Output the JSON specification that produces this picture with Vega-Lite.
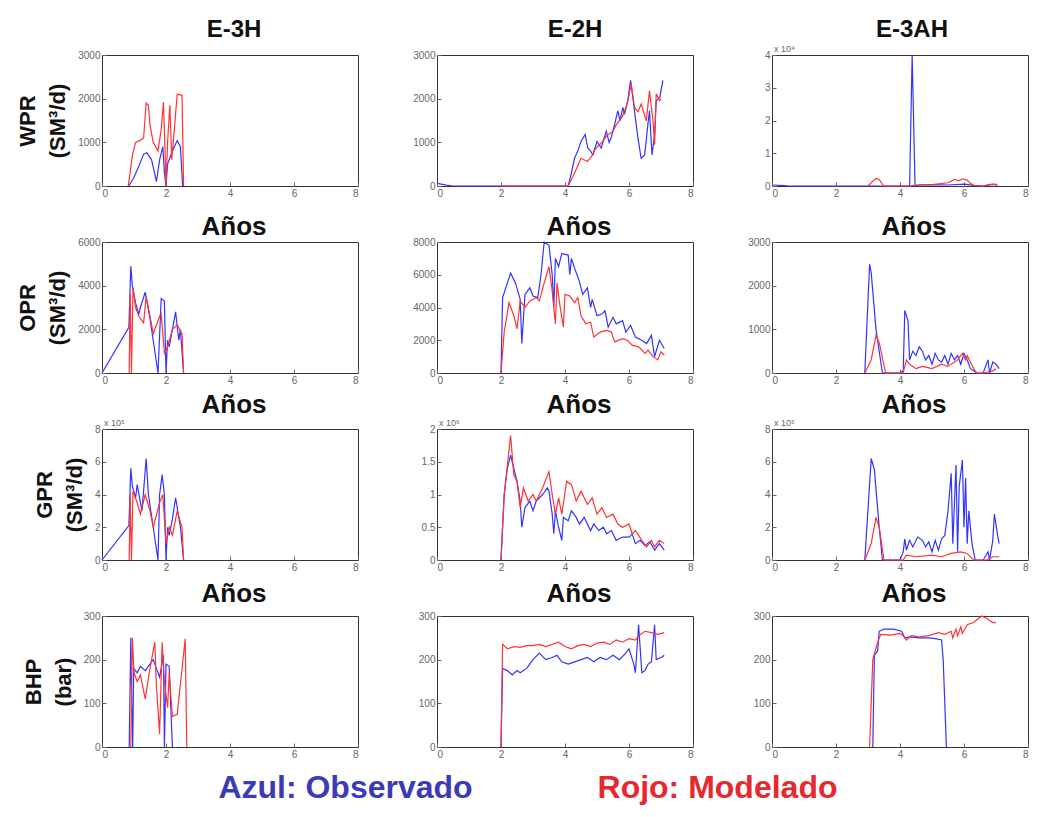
{
"$schema":"https://vega.github.io/schema/vega-lite/v6.json",
"background":"white",
"padding":{"left":16,"top":17,"right":5,"bottom":5},
"datasets":{
"wpr_e3h":[
{"s":"Obs","t":0.84,"v":0},{"s":"Obs","t":1.0,"v":200},{"s":"Obs","t":1.15,"v":450},{"s":"Obs","t":1.3,"v":730},{"s":"Obs","t":1.4,"v":760},{"s":"Obs","t":1.55,"v":600},{"s":"Obs","t":1.7,"v":100},{"s":"Obs","t":1.8,"v":600},{"s":"Obs","t":1.9,"v":900},{"s":"Obs","t":1.95,"v":300},{"s":"Obs","t":2.0,"v":0},{"s":"Obs","t":2.05,"v":500},{"s":"Obs","t":2.2,"v":800},{"s":"Obs","t":2.35,"v":1040},{"s":"Obs","t":2.45,"v":900},{"s":"Obs","t":2.52,"v":0},
{"s":"Mod","t":0.82,"v":0},{"s":"Mod","t":0.95,"v":700},{"s":"Mod","t":1.05,"v":1000},{"s":"Mod","t":1.2,"v":1050},{"s":"Mod","t":1.3,"v":1100},{"s":"Mod","t":1.38,"v":1900},{"s":"Mod","t":1.45,"v":1850},{"s":"Mod","t":1.5,"v":1400},{"s":"Mod","t":1.6,"v":1000},{"s":"Mod","t":1.75,"v":800},{"s":"Mod","t":1.85,"v":1300},{"s":"Mod","t":1.92,"v":1920},{"s":"Mod","t":1.97,"v":800},{"s":"Mod","t":2.0,"v":0},{"s":"Mod","t":2.05,"v":1000},{"s":"Mod","t":2.12,"v":1850},{"s":"Mod","t":2.18,"v":600},{"s":"Mod","t":2.25,"v":1200},{"s":"Mod","t":2.35,"v":2100},{"s":"Mod","t":2.5,"v":2080},{"s":"Mod","t":2.55,"v":0}],
"wpr_e2h":[
{"s":"Obs","t":0,"v":60},{"s":"Obs","t":0.3,"v":20},{"s":"Obs","t":0.5,"v":0},{"s":"Obs","t":4.1,"v":0},{"s":"Obs","t":4.2,"v":300},{"s":"Obs","t":4.3,"v":640},{"s":"Obs","t":4.4,"v":800},{"s":"Obs","t":4.5,"v":1020},{"s":"Obs","t":4.63,"v":1180},{"s":"Obs","t":4.71,"v":870},{"s":"Obs","t":4.8,"v":800},{"s":"Obs","t":4.87,"v":710},{"s":"Obs","t":5.0,"v":1020},{"s":"Obs","t":5.13,"v":870},{"s":"Obs","t":5.29,"v":1255},{"s":"Obs","t":5.38,"v":1000},{"s":"Obs","t":5.44,"v":1100},{"s":"Obs","t":5.55,"v":1410},{"s":"Obs","t":5.65,"v":1720},{"s":"Obs","t":5.72,"v":1500},{"s":"Obs","t":5.81,"v":1800},{"s":"Obs","t":5.86,"v":1640},{"s":"Obs","t":5.96,"v":1950},{"s":"Obs","t":6.05,"v":2420},{"s":"Obs","t":6.12,"v":2030},{"s":"Obs","t":6.17,"v":1720},{"s":"Obs","t":6.28,"v":1100},{"s":"Obs","t":6.38,"v":635},{"s":"Obs","t":6.49,"v":710},{"s":"Obs","t":6.59,"v":1410},{"s":"Obs","t":6.64,"v":1720},{"s":"Obs","t":6.72,"v":710},{"s":"Obs","t":6.8,"v":1180},{"s":"Obs","t":6.85,"v":1950},{"s":"Obs","t":6.96,"v":2030},{"s":"Obs","t":7.06,"v":2420},
{"s":"Mod","t":2.0,"v":0},{"s":"Mod","t":4.1,"v":0},{"s":"Mod","t":4.3,"v":300},{"s":"Mod","t":4.5,"v":635},{"s":"Mod","t":4.7,"v":560},{"s":"Mod","t":4.85,"v":700},{"s":"Mod","t":4.97,"v":870},{"s":"Mod","t":5.15,"v":1000},{"s":"Mod","t":5.3,"v":1150},{"s":"Mod","t":5.5,"v":1250},{"s":"Mod","t":5.6,"v":1400},{"s":"Mod","t":5.8,"v":1600},{"s":"Mod","t":5.95,"v":1900},{"s":"Mod","t":6.07,"v":2340},{"s":"Mod","t":6.17,"v":1800},{"s":"Mod","t":6.28,"v":1700},{"s":"Mod","t":6.38,"v":1875},{"s":"Mod","t":6.54,"v":1490},{"s":"Mod","t":6.64,"v":2185},{"s":"Mod","t":6.75,"v":1490},{"s":"Mod","t":6.8,"v":945},{"s":"Mod","t":6.85,"v":2110},{"s":"Mod","t":6.96,"v":1950},{"s":"Mod","t":7.0,"v":2000}],
"wpr_e3ah":[
{"s":"Obs","t":0,"v":300},{"s":"Obs","t":0.4,"v":100},{"s":"Obs","t":0.5,"v":0},{"s":"Obs","t":4.3,"v":0},{"s":"Obs","t":4.38,"v":40000},{"s":"Obs","t":4.47,"v":0},{"s":"Obs","t":4.6,"v":300},{"s":"Obs","t":5.0,"v":400},{"s":"Obs","t":5.5,"v":300},{"s":"Obs","t":6.0,"v":600},{"s":"Obs","t":6.3,"v":200},{"s":"Obs","t":6.6,"v":0},{"s":"Obs","t":6.9,"v":500},{"s":"Obs","t":7.0,"v":300},
{"s":"Mod","t":3.0,"v":0},{"s":"Mod","t":3.15,"v":1500},{"s":"Mod","t":3.25,"v":2300},{"s":"Mod","t":3.35,"v":2000},{"s":"Mod","t":3.45,"v":500},{"s":"Mod","t":3.5,"v":0},{"s":"Mod","t":4.3,"v":0},{"s":"Mod","t":4.5,"v":300},{"s":"Mod","t":5.0,"v":400},{"s":"Mod","t":5.5,"v":1000},{"s":"Mod","t":5.7,"v":2000},{"s":"Mod","t":5.85,"v":1600},{"s":"Mod","t":5.95,"v":2200},{"s":"Mod","t":6.1,"v":1800},{"s":"Mod","t":6.2,"v":800},{"s":"Mod","t":6.3,"v":200},{"s":"Mod","t":6.6,"v":0},{"s":"Mod","t":6.8,"v":500},{"s":"Mod","t":7.0,"v":600},{"s":"Mod","t":7.05,"v":0}],
"opr_e3h":[
{"s":"Obs","t":0,"v":0},{"s":"Obs","t":0.84,"v":2090},{"s":"Obs","t":0.9,"v":4890},{"s":"Obs","t":0.95,"v":4000},{"s":"Obs","t":1.05,"v":3200},{"s":"Obs","t":1.15,"v":2700},{"s":"Obs","t":1.2,"v":3000},{"s":"Obs","t":1.35,"v":3700},{"s":"Obs","t":1.5,"v":2500},{"s":"Obs","t":1.6,"v":1500},{"s":"Obs","t":1.75,"v":0},{"s":"Obs","t":1.85,"v":3410},{"s":"Obs","t":1.95,"v":3300},{"s":"Obs","t":2.0,"v":0},{"s":"Obs","t":2.05,"v":1500},{"s":"Obs","t":2.1,"v":1200},{"s":"Obs","t":2.2,"v":2000},{"s":"Obs","t":2.3,"v":2800},{"s":"Obs","t":2.4,"v":1500},{"s":"Obs","t":2.45,"v":2000},{"s":"Obs","t":2.55,"v":0},
{"s":"Mod","t":0.85,"v":0},{"s":"Mod","t":0.88,"v":3600},{"s":"Mod","t":0.92,"v":0},{"s":"Mod","t":0.97,"v":3900},{"s":"Mod","t":1.05,"v":3000},{"s":"Mod","t":1.15,"v":2600},{"s":"Mod","t":1.3,"v":2300},{"s":"Mod","t":1.38,"v":3500},{"s":"Mod","t":1.5,"v":2600},{"s":"Mod","t":1.6,"v":1800},{"s":"Mod","t":1.8,"v":2600},{"s":"Mod","t":1.85,"v":2700},{"s":"Mod","t":1.95,"v":900},{"s":"Mod","t":2.05,"v":1200},{"s":"Mod","t":2.2,"v":2000},{"s":"Mod","t":2.35,"v":2200},{"s":"Mod","t":2.5,"v":1800},{"s":"Mod","t":2.55,"v":0}],
"opr_e2h":[
{"s":"Obs","t":2.0,"v":0},{"s":"Obs","t":2.05,"v":4600},{"s":"Obs","t":2.2,"v":5500},{"s":"Obs","t":2.3,"v":6100},{"s":"Obs","t":2.45,"v":5500},{"s":"Obs","t":2.6,"v":4500},{"s":"Obs","t":2.65,"v":1800},{"s":"Obs","t":2.75,"v":4800},{"s":"Obs","t":2.9,"v":5200},{"s":"Obs","t":3.0,"v":4700},{"s":"Obs","t":3.15,"v":4600},{"s":"Obs","t":3.25,"v":6000},{"s":"Obs","t":3.35,"v":8000},{"s":"Obs","t":3.5,"v":7800},{"s":"Obs","t":3.6,"v":6000},{"s":"Obs","t":3.65,"v":4000},{"s":"Obs","t":3.7,"v":7000},{"s":"Obs","t":3.8,"v":6500},{"s":"Obs","t":3.9,"v":7300},{"s":"Obs","t":4.1,"v":7200},{"s":"Obs","t":4.15,"v":6000},{"s":"Obs","t":4.2,"v":7000},{"s":"Obs","t":4.3,"v":6400},{"s":"Obs","t":4.45,"v":5600},{"s":"Obs","t":4.55,"v":4800},{"s":"Obs","t":4.7,"v":5200},{"s":"Obs","t":4.8,"v":4000},{"s":"Obs","t":4.85,"v":4500},{"s":"Obs","t":5.0,"v":3500},{"s":"Obs","t":5.15,"v":3600},{"s":"Obs","t":5.25,"v":3800},{"s":"Obs","t":5.35,"v":2800},{"s":"Obs","t":5.5,"v":3400},{"s":"Obs","t":5.6,"v":3000},{"s":"Obs","t":5.8,"v":3200},{"s":"Obs","t":5.9,"v":2500},{"s":"Obs","t":6.05,"v":2900},{"s":"Obs","t":6.2,"v":2200},{"s":"Obs","t":6.4,"v":2000},{"s":"Obs","t":6.55,"v":1800},{"s":"Obs","t":6.7,"v":2300},{"s":"Obs","t":6.8,"v":1000},{"s":"Obs","t":6.95,"v":2000},{"s":"Obs","t":7.1,"v":1500},
{"s":"Mod","t":2.0,"v":0},{"s":"Mod","t":2.1,"v":2500},{"s":"Mod","t":2.25,"v":4300},{"s":"Mod","t":2.4,"v":3500},{"s":"Mod","t":2.5,"v":2700},{"s":"Mod","t":2.6,"v":4400},{"s":"Mod","t":2.75,"v":4000},{"s":"Mod","t":2.9,"v":4400},{"s":"Mod","t":3.1,"v":4600},{"s":"Mod","t":3.2,"v":4400},{"s":"Mod","t":3.35,"v":5500},{"s":"Mod","t":3.5,"v":6500},{"s":"Mod","t":3.6,"v":5000},{"s":"Mod","t":3.7,"v":3000},{"s":"Mod","t":3.75,"v":5500},{"s":"Mod","t":3.85,"v":4000},{"s":"Mod","t":3.95,"v":2800},{"s":"Mod","t":4.0,"v":4800},{"s":"Mod","t":4.15,"v":4700},{"s":"Mod","t":4.3,"v":4300},{"s":"Mod","t":4.4,"v":4600},{"s":"Mod","t":4.5,"v":3500},{"s":"Mod","t":4.65,"v":3000},{"s":"Mod","t":4.8,"v":3100},{"s":"Mod","t":4.9,"v":2200},{"s":"Mod","t":5.1,"v":2500},{"s":"Mod","t":5.3,"v":2600},{"s":"Mod","t":5.45,"v":2500},{"s":"Mod","t":5.55,"v":1900},{"s":"Mod","t":5.8,"v":2100},{"s":"Mod","t":5.95,"v":2000},{"s":"Mod","t":6.1,"v":1700},{"s":"Mod","t":6.3,"v":1600},{"s":"Mod","t":6.5,"v":1200},{"s":"Mod","t":6.6,"v":1400},{"s":"Mod","t":6.75,"v":1000},{"s":"Mod","t":6.9,"v":800},{"s":"Mod","t":7.0,"v":1300},{"s":"Mod","t":7.1,"v":1100}],
"opr_e3ah":[
{"s":"Obs","t":2.9,"v":0},{"s":"Obs","t":3.05,"v":2490},{"s":"Obs","t":3.1,"v":2300},{"s":"Obs","t":3.25,"v":1000},{"s":"Obs","t":3.45,"v":0},{"s":"Obs","t":4.0,"v":0},{"s":"Obs","t":4.1,"v":50},{"s":"Obs","t":4.15,"v":1430},{"s":"Obs","t":4.25,"v":1200},{"s":"Obs","t":4.3,"v":300},{"s":"Obs","t":4.4,"v":500},{"s":"Obs","t":4.5,"v":400},{"s":"Obs","t":4.6,"v":600},{"s":"Obs","t":4.7,"v":500},{"s":"Obs","t":4.8,"v":300},{"s":"Obs","t":4.9,"v":400},{"s":"Obs","t":5.0,"v":200},{"s":"Obs","t":5.1,"v":450},{"s":"Obs","t":5.2,"v":300},{"s":"Obs","t":5.3,"v":250},{"s":"Obs","t":5.4,"v":400},{"s":"Obs","t":5.5,"v":200},{"s":"Obs","t":5.6,"v":450},{"s":"Obs","t":5.7,"v":300},{"s":"Obs","t":5.8,"v":400},{"s":"Obs","t":5.9,"v":200},{"s":"Obs","t":6.0,"v":450},{"s":"Obs","t":6.1,"v":300},{"s":"Obs","t":6.2,"v":100},{"s":"Obs","t":6.4,"v":0},{"s":"Obs","t":6.6,"v":0},{"s":"Obs","t":6.75,"v":300},{"s":"Obs","t":6.8,"v":0},{"s":"Obs","t":6.9,"v":250},{"s":"Obs","t":7.0,"v":200},{"s":"Obs","t":7.1,"v":100},
{"s":"Mod","t":2.9,"v":0},{"s":"Mod","t":3.1,"v":300},{"s":"Mod","t":3.25,"v":860},{"s":"Mod","t":3.35,"v":700},{"s":"Mod","t":3.55,"v":0},{"s":"Mod","t":4.1,"v":0},{"s":"Mod","t":4.2,"v":300},{"s":"Mod","t":4.3,"v":200},{"s":"Mod","t":4.5,"v":100},{"s":"Mod","t":4.7,"v":150},{"s":"Mod","t":5.0,"v":100},{"s":"Mod","t":5.3,"v":200},{"s":"Mod","t":5.5,"v":150},{"s":"Mod","t":5.8,"v":300},{"s":"Mod","t":5.95,"v":450},{"s":"Mod","t":6.05,"v":300},{"s":"Mod","t":6.1,"v":400},{"s":"Mod","t":6.3,"v":100},{"s":"Mod","t":6.4,"v":0},{"s":"Mod","t":6.6,"v":0},{"s":"Mod","t":6.9,"v":50},{"s":"Mod","t":7.0,"v":100}],
"gpr_e3h":[
{"s":"Obs","t":0,"v":0},{"s":"Obs","t":0.84,"v":210000},{"s":"Obs","t":0.9,"v":560000},{"s":"Obs","t":0.95,"v":450000},{"s":"Obs","t":1.05,"v":380000},{"s":"Obs","t":1.1,"v":460000},{"s":"Obs","t":1.25,"v":300000},{"s":"Obs","t":1.38,"v":620000},{"s":"Obs","t":1.45,"v":400000},{"s":"Obs","t":1.6,"v":200000},{"s":"Obs","t":1.75,"v":0},{"s":"Obs","t":1.8,"v":400000},{"s":"Obs","t":1.88,"v":520000},{"s":"Obs","t":1.95,"v":400000},{"s":"Obs","t":2.0,"v":0},{"s":"Obs","t":2.05,"v":200000},{"s":"Obs","t":2.1,"v":150000},{"s":"Obs","t":2.2,"v":250000},{"s":"Obs","t":2.3,"v":380000},{"s":"Obs","t":2.45,"v":200000},{"s":"Obs","t":2.55,"v":0},
{"s":"Mod","t":0.85,"v":0},{"s":"Mod","t":0.88,"v":400000},{"s":"Mod","t":0.92,"v":0},{"s":"Mod","t":0.97,"v":420000},{"s":"Mod","t":1.1,"v":350000},{"s":"Mod","t":1.2,"v":280000},{"s":"Mod","t":1.35,"v":400000},{"s":"Mod","t":1.5,"v":300000},{"s":"Mod","t":1.6,"v":200000},{"s":"Mod","t":1.8,"v":350000},{"s":"Mod","t":1.9,"v":400000},{"s":"Mod","t":2.0,"v":100000},{"s":"Mod","t":2.1,"v":200000},{"s":"Mod","t":2.2,"v":150000},{"s":"Mod","t":2.35,"v":300000},{"s":"Mod","t":2.5,"v":200000},{"s":"Mod","t":2.55,"v":0}],
"gpr_e2h":[
{"s":"Obs","t":2.0,"v":0},{"s":"Obs","t":2.1,"v":1000000},{"s":"Obs","t":2.2,"v":1400000},{"s":"Obs","t":2.3,"v":1600000},{"s":"Obs","t":2.4,"v":1400000},{"s":"Obs","t":2.5,"v":1200000},{"s":"Obs","t":2.6,"v":900000},{"s":"Obs","t":2.65,"v":500000},{"s":"Obs","t":2.75,"v":800000},{"s":"Obs","t":2.9,"v":900000},{"s":"Obs","t":3.0,"v":750000},{"s":"Obs","t":3.1,"v":900000},{"s":"Obs","t":3.3,"v":1000000},{"s":"Obs","t":3.45,"v":1100000},{"s":"Obs","t":3.5,"v":1050000},{"s":"Obs","t":3.6,"v":700000},{"s":"Obs","t":3.65,"v":400000},{"s":"Obs","t":3.7,"v":750000},{"s":"Obs","t":3.8,"v":500000},{"s":"Obs","t":3.9,"v":300000},{"s":"Obs","t":3.95,"v":650000},{"s":"Obs","t":4.1,"v":600000},{"s":"Obs","t":4.2,"v":750000},{"s":"Obs","t":4.35,"v":650000},{"s":"Obs","t":4.45,"v":550000},{"s":"Obs","t":4.6,"v":650000},{"s":"Obs","t":4.8,"v":450000},{"s":"Obs","t":4.9,"v":550000},{"s":"Obs","t":5.05,"v":450000},{"s":"Obs","t":5.2,"v":500000},{"s":"Obs","t":5.3,"v":400000},{"s":"Obs","t":5.45,"v":450000},{"s":"Obs","t":5.6,"v":300000},{"s":"Obs","t":5.8,"v":350000},{"s":"Obs","t":6.0,"v":350000},{"s":"Obs","t":6.1,"v":400000},{"s":"Obs","t":6.2,"v":250000},{"s":"Obs","t":6.35,"v":300000},{"s":"Obs","t":6.5,"v":220000},{"s":"Obs","t":6.65,"v":280000},{"s":"Obs","t":6.8,"v":150000},{"s":"Obs","t":6.95,"v":250000},{"s":"Obs","t":7.1,"v":150000},
{"s":"Mod","t":2.0,"v":0},{"s":"Mod","t":2.1,"v":1000000},{"s":"Mod","t":2.2,"v":1450000},{"s":"Mod","t":2.3,"v":1900000},{"s":"Mod","t":2.4,"v":1300000},{"s":"Mod","t":2.5,"v":1200000},{"s":"Mod","t":2.6,"v":800000},{"s":"Mod","t":2.7,"v":1100000},{"s":"Mod","t":2.85,"v":900000},{"s":"Mod","t":3.0,"v":1000000},{"s":"Mod","t":3.1,"v":900000},{"s":"Mod","t":3.3,"v":1100000},{"s":"Mod","t":3.5,"v":1350000},{"s":"Mod","t":3.6,"v":1000000},{"s":"Mod","t":3.7,"v":700000},{"s":"Mod","t":3.8,"v":950000},{"s":"Mod","t":3.9,"v":700000},{"s":"Mod","t":4.05,"v":1200000},{"s":"Mod","t":4.2,"v":1150000},{"s":"Mod","t":4.35,"v":900000},{"s":"Mod","t":4.5,"v":1050000},{"s":"Mod","t":4.7,"v":850000},{"s":"Mod","t":4.85,"v":950000},{"s":"Mod","t":5.0,"v":700000},{"s":"Mod","t":5.15,"v":800000},{"s":"Mod","t":5.3,"v":650000},{"s":"Mod","t":5.5,"v":700000},{"s":"Mod","t":5.65,"v":550000},{"s":"Mod","t":5.8,"v":500000},{"s":"Mod","t":6.0,"v":550000},{"s":"Mod","t":6.1,"v":400000},{"s":"Mod","t":6.2,"v":450000},{"s":"Mod","t":6.4,"v":300000},{"s":"Mod","t":6.55,"v":200000},{"s":"Mod","t":6.7,"v":300000},{"s":"Mod","t":6.8,"v":200000},{"s":"Mod","t":6.95,"v":300000},{"s":"Mod","t":7.1,"v":250000}],
"gpr_e3ah":[
{"s":"Obs","t":2.9,"v":0},{"s":"Obs","t":3.1,"v":620000},{"s":"Obs","t":3.2,"v":550000},{"s":"Obs","t":3.35,"v":200000},{"s":"Obs","t":3.45,"v":0},{"s":"Obs","t":4.0,"v":0},{"s":"Obs","t":4.1,"v":50000},{"s":"Obs","t":4.15,"v":130000},{"s":"Obs","t":4.2,"v":60000},{"s":"Obs","t":4.3,"v":120000},{"s":"Obs","t":4.4,"v":80000},{"s":"Obs","t":4.55,"v":140000},{"s":"Obs","t":4.7,"v":120000},{"s":"Obs","t":4.8,"v":80000},{"s":"Obs","t":4.9,"v":110000},{"s":"Obs","t":5.0,"v":50000},{"s":"Obs","t":5.1,"v":120000},{"s":"Obs","t":5.2,"v":60000},{"s":"Obs","t":5.3,"v":130000},{"s":"Obs","t":5.4,"v":150000},{"s":"Obs","t":5.5,"v":300000},{"s":"Obs","t":5.6,"v":530000},{"s":"Obs","t":5.65,"v":100000},{"s":"Obs","t":5.75,"v":580000},{"s":"Obs","t":5.8,"v":50000},{"s":"Obs","t":5.85,"v":450000},{"s":"Obs","t":5.95,"v":610000},{"s":"Obs","t":6.0,"v":200000},{"s":"Obs","t":6.05,"v":500000},{"s":"Obs","t":6.1,"v":100000},{"s":"Obs","t":6.15,"v":300000},{"s":"Obs","t":6.25,"v":100000},{"s":"Obs","t":6.35,"v":0},{"s":"Obs","t":6.6,"v":0},{"s":"Obs","t":6.75,"v":50000},{"s":"Obs","t":6.8,"v":0},{"s":"Obs","t":6.9,"v":120000},{"s":"Obs","t":6.95,"v":280000},{"s":"Obs","t":7.05,"v":150000},{"s":"Obs","t":7.1,"v":100000},
{"s":"Mod","t":2.9,"v":0},{"s":"Mod","t":3.1,"v":100000},{"s":"Mod","t":3.25,"v":260000},{"s":"Mod","t":3.35,"v":200000},{"s":"Mod","t":3.5,"v":0},{"s":"Mod","t":4.1,"v":0},{"s":"Mod","t":4.2,"v":30000},{"s":"Mod","t":4.5,"v":20000},{"s":"Mod","t":5.0,"v":30000},{"s":"Mod","t":5.3,"v":20000},{"s":"Mod","t":5.6,"v":40000},{"s":"Mod","t":5.9,"v":50000},{"s":"Mod","t":6.1,"v":40000},{"s":"Mod","t":6.3,"v":0},{"s":"Mod","t":6.7,"v":0},{"s":"Mod","t":6.9,"v":20000},{"s":"Mod","t":7.1,"v":20000}],
"bhp_e3h":[
{"s":"Obs","t":0.85,"v":0},{"s":"Obs","t":0.9,"v":250},{"s":"Obs","t":0.93,"v":100},{"s":"Obs","t":0.96,"v":0},{"s":"Obs","t":0.99,"v":180},{"s":"Obs","t":1.1,"v":170},{"s":"Obs","t":1.2,"v":185},{"s":"Obs","t":1.35,"v":175},{"s":"Obs","t":1.6,"v":200},{"s":"Obs","t":1.7,"v":180},{"s":"Obs","t":1.8,"v":160},{"s":"Obs","t":1.92,"v":210},{"s":"Obs","t":1.95,"v":0},{"s":"Obs","t":2.0,"v":190},{"s":"Obs","t":2.1,"v":185},{"s":"Obs","t":2.2,"v":0},
{"s":"Mod","t":0.9,"v":0},{"s":"Mod","t":0.95,"v":250},{"s":"Mod","t":1.0,"v":170},{"s":"Mod","t":1.1,"v":150},{"s":"Mod","t":1.2,"v":165},{"s":"Mod","t":1.35,"v":110},{"s":"Mod","t":1.5,"v":180},{"s":"Mod","t":1.65,"v":240},{"s":"Mod","t":1.7,"v":140},{"s":"Mod","t":1.8,"v":30},{"s":"Mod","t":1.88,"v":240},{"s":"Mod","t":1.95,"v":150},{"s":"Mod","t":2.05,"v":90},{"s":"Mod","t":2.1,"v":170},{"s":"Mod","t":2.2,"v":70},{"s":"Mod","t":2.35,"v":75},{"s":"Mod","t":2.6,"v":248},{"s":"Mod","t":2.65,"v":0}],
"bhp_e2h":[
{"s":"Obs","t":2.0,"v":0},{"s":"Obs","t":2.05,"v":180},{"s":"Obs","t":2.2,"v":175},{"s":"Obs","t":2.35,"v":165},{"s":"Obs","t":2.5,"v":175},{"s":"Obs","t":2.6,"v":170},{"s":"Obs","t":2.8,"v":180},{"s":"Obs","t":3.0,"v":200},{"s":"Obs","t":3.2,"v":215},{"s":"Obs","t":3.4,"v":200},{"s":"Obs","t":3.6,"v":205},{"s":"Obs","t":3.75,"v":210},{"s":"Obs","t":3.9,"v":195},{"s":"Obs","t":4.1,"v":190},{"s":"Obs","t":4.3,"v":195},{"s":"Obs","t":4.5,"v":200},{"s":"Obs","t":4.7,"v":205},{"s":"Obs","t":4.9,"v":195},{"s":"Obs","t":5.1,"v":205},{"s":"Obs","t":5.3,"v":200},{"s":"Obs","t":5.5,"v":210},{"s":"Obs","t":5.7,"v":200},{"s":"Obs","t":5.9,"v":215},{"s":"Obs","t":6.0,"v":225},{"s":"Obs","t":6.15,"v":190},{"s":"Obs","t":6.2,"v":170},{"s":"Obs","t":6.3,"v":280},{"s":"Obs","t":6.4,"v":170},{"s":"Obs","t":6.5,"v":175},{"s":"Obs","t":6.6,"v":190},{"s":"Obs","t":6.7,"v":195},{"s":"Obs","t":6.8,"v":280},{"s":"Obs","t":6.85,"v":200},{"s":"Obs","t":7.0,"v":205},{"s":"Obs","t":7.1,"v":210},
{"s":"Mod","t":2.0,"v":0},{"s":"Mod","t":2.05,"v":235},{"s":"Mod","t":2.2,"v":225},{"s":"Mod","t":2.4,"v":230},{"s":"Mod","t":2.6,"v":228},{"s":"Mod","t":2.8,"v":232},{"s":"Mod","t":3.0,"v":232},{"s":"Mod","t":3.2,"v":235},{"s":"Mod","t":3.4,"v":230},{"s":"Mod","t":3.6,"v":235},{"s":"Mod","t":3.8,"v":240},{"s":"Mod","t":4.0,"v":230},{"s":"Mod","t":4.2,"v":225},{"s":"Mod","t":4.4,"v":232},{"s":"Mod","t":4.6,"v":235},{"s":"Mod","t":4.8,"v":230},{"s":"Mod","t":5.0,"v":238},{"s":"Mod","t":5.2,"v":240},{"s":"Mod","t":5.4,"v":235},{"s":"Mod","t":5.6,"v":245},{"s":"Mod","t":5.8,"v":240},{"s":"Mod","t":6.0,"v":248},{"s":"Mod","t":6.2,"v":245},{"s":"Mod","t":6.3,"v":255},{"s":"Mod","t":6.5,"v":265},{"s":"Mod","t":6.7,"v":262},{"s":"Mod","t":6.9,"v":258},{"s":"Mod","t":7.1,"v":262}],
"bhp_e3ah":[
{"s":"Obs","t":3.15,"v":0},{"s":"Obs","t":3.2,"v":210},{"s":"Obs","t":3.3,"v":220},{"s":"Obs","t":3.35,"v":265},{"s":"Obs","t":3.5,"v":270},{"s":"Obs","t":3.8,"v":270},{"s":"Obs","t":4.05,"v":265},{"s":"Obs","t":4.15,"v":250},{"s":"Obs","t":4.3,"v":252},{"s":"Obs","t":4.6,"v":250},{"s":"Obs","t":4.9,"v":250},{"s":"Obs","t":5.1,"v":248},{"s":"Obs","t":5.3,"v":245},{"s":"Obs","t":5.35,"v":200},{"s":"Obs","t":5.45,"v":0},
{"s":"Mod","t":3.05,"v":0},{"s":"Mod","t":3.15,"v":200},{"s":"Mod","t":3.3,"v":240},{"s":"Mod","t":3.4,"v":258},{"s":"Mod","t":3.7,"v":256},{"s":"Mod","t":4.0,"v":260},{"s":"Mod","t":4.1,"v":255},{"s":"Mod","t":4.2,"v":245},{"s":"Mod","t":4.35,"v":255},{"s":"Mod","t":4.6,"v":252},{"s":"Mod","t":4.9,"v":255},{"s":"Mod","t":5.2,"v":262},{"s":"Mod","t":5.4,"v":258},{"s":"Mod","t":5.6,"v":265},{"s":"Mod","t":5.65,"v":250},{"s":"Mod","t":5.75,"v":270},{"s":"Mod","t":5.8,"v":255},{"s":"Mod","t":5.9,"v":275},{"s":"Mod","t":5.95,"v":260},{"s":"Mod","t":6.1,"v":280},{"s":"Mod","t":6.3,"v":285},{"s":"Mod","t":6.55,"v":300},{"s":"Mod","t":6.7,"v":295},{"s":"Mod","t":6.9,"v":285},{"s":"Mod","t":7.0,"v":285}]
},
"columns":3,
"spacing":{"row":56,"column":79},
"bounds":"flush",
"concat":[
{"width":256,"height":131,"title":{"text":"E-3H","fontSize":24,"offset":8,"dx":4},"data":{"name":"wpr_e3h"},"mark":{"type":"line","strokeWidth":1.2},
"encoding":{"x":{"field":"t","type":"quantitative","scale":{"domain":[0,8],"nice":false},"axis":{"values":[0,2,4,6,8],"title":null}},
"y":{"field":"v","type":"quantitative","scale":{"domain":[0,3000],"nice":false},"axis":{"values":[0,1000,2000,3000],"title":["WPR","(SM³/d)"]}},
"color":{"field":"s","type":"nominal","scale":{"domain":["Obs","Mod"],"range":["#3333ff","#ff3333"]},"legend":null}}},
{"width":256,"height":131,"title":{"text":"E-2H","fontSize":24,"offset":8,"dx":10},"data":{"name":"wpr_e2h"},"mark":{"type":"line","strokeWidth":1.2},
"encoding":{"x":{"field":"t","type":"quantitative","scale":{"domain":[0,8],"nice":false},"axis":{"values":[0,2,4,6,8],"title":null}},
"y":{"field":"v","type":"quantitative","scale":{"domain":[0,3000],"nice":false},"axis":{"values":[0,1000,2000,3000],"title":null}},
"color":{"field":"s","type":"nominal","scale":{"domain":["Obs","Mod"],"range":["#3333ff","#ff3333"]},"legend":null}}},
{"width":256,"height":131,"title":{"text":"E-3AH","fontSize":24,"offset":3,"dx":12},
"layer":[
{"data":{"name":"wpr_e3ah"},"mark":{"type":"line","strokeWidth":1.2},
"encoding":{"x":{"field":"t","type":"quantitative","scale":{"domain":[0,8],"nice":false},"axis":{"values":[0,2,4,6,8],"title":null}},
"y":{"field":"v","type":"quantitative","scale":{"domain":[0,40000],"nice":false},"axis":{"values":[0,10000,20000,30000,40000],"labelExpr":"'' + (datum.value/10000)","title":null}},
"color":{"field":"s","type":"nominal","scale":{"domain":["Obs","Mod"],"range":["#3333ff","#ff3333"]},"legend":null}}},
{"data":{"values":[{"etiqueta":"x 10⁴"}]},"mark":{"type":"text","align":"left","baseline":"bottom","dx":2,"dy":-1,"fontSize":9,"color":"#666"},
"encoding":{"x":{"datum":0,"type":"quantitative","axis":{"values":[0,2,4,6,8],"title":null}},"y":{"datum":40000,"type":"quantitative","axis":{"values":[0,10000,20000,30000,40000],"labelExpr":"'' + (datum.value/10000)","title":null}},"text":{"field":"etiqueta"}}}
]},
{"width":256,"height":131,"title":{"text":"Años","offset":2,"dy":5,"dx":4},"data":{"name":"opr_e3h"},"mark":{"type":"line","strokeWidth":1.2},
"encoding":{"x":{"field":"t","type":"quantitative","scale":{"domain":[0,8],"nice":false},"axis":{"values":[0,2,4,6,8],"title":null}},
"y":{"field":"v","type":"quantitative","scale":{"domain":[0,6000],"nice":false},"axis":{"values":[0,2000,4000,6000],"title":["OPR","(SM³/d)"]}},
"color":{"field":"s","type":"nominal","scale":{"domain":["Obs","Mod"],"range":["#3333ff","#ff3333"]},"legend":null}}},
{"width":256,"height":131,"title":{"text":"Años","offset":2,"dy":5,"dx":14},"data":{"name":"opr_e2h"},"mark":{"type":"line","strokeWidth":1.2},
"encoding":{"x":{"field":"t","type":"quantitative","scale":{"domain":[0,8],"nice":false},"axis":{"values":[0,2,4,6,8],"title":null}},
"y":{"field":"v","type":"quantitative","scale":{"domain":[0,8000],"nice":false},"axis":{"values":[0,2000,4000,6000,8000],"title":null}},
"color":{"field":"s","type":"nominal","scale":{"domain":["Obs","Mod"],"range":["#3333ff","#ff3333"]},"legend":null}}},
{"width":256,"height":131,"title":{"text":"Años","offset":2,"dy":5,"dx":14},"data":{"name":"opr_e3ah"},"mark":{"type":"line","strokeWidth":1.2},
"encoding":{"x":{"field":"t","type":"quantitative","scale":{"domain":[0,8],"nice":false},"axis":{"values":[0,2,4,6,8],"title":null}},
"y":{"field":"v","type":"quantitative","scale":{"domain":[0,3000],"nice":false},"axis":{"values":[0,1000,2000,3000],"title":null}},
"color":{"field":"s","type":"nominal","scale":{"domain":["Obs","Mod"],"range":["#3333ff","#ff3333"]},"legend":null}}},
{"width":256,"height":131,"title":{"text":"Años","offset":1,"dx":4},
"layer":[
{"data":{"name":"gpr_e3h"},"mark":{"type":"line","strokeWidth":1.2},
"encoding":{"x":{"field":"t","type":"quantitative","scale":{"domain":[0,8],"nice":false},"axis":{"values":[0,2,4,6,8],"title":null}},
"y":{"field":"v","type":"quantitative","scale":{"domain":[0,800000],"nice":false},"axis":{"values":[0,200000,400000,600000,800000],"labelExpr":"'' + (datum.value/100000)","title":["GPR","(SM³/d)"]}},
"color":{"field":"s","type":"nominal","scale":{"domain":["Obs","Mod"],"range":["#3333ff","#ff3333"]},"legend":null}}},
{"data":{"values":[{"etiqueta":"x 10⁵"}]},"mark":{"type":"text","align":"left","baseline":"bottom","dx":2,"dy":-1,"fontSize":9,"color":"#666"},
"encoding":{"x":{"datum":0,"type":"quantitative","axis":{"values":[0,2,4,6,8],"title":null}},"y":{"datum":800000,"type":"quantitative","axis":{"values":[0,200000,400000,600000,800000],"labelExpr":"'' + (datum.value/100000)","title":["GPR","(SM³/d)"]}},"text":{"field":"etiqueta"}}}
]},
{"width":256,"height":131,"title":{"text":"Años","offset":1,"dx":14},
"layer":[
{"data":{"name":"gpr_e2h"},"mark":{"type":"line","strokeWidth":1.2},
"encoding":{"x":{"field":"t","type":"quantitative","scale":{"domain":[0,8],"nice":false},"axis":{"values":[0,2,4,6,8],"title":null}},
"y":{"field":"v","type":"quantitative","scale":{"domain":[0,2000000],"nice":false},"axis":{"values":[0,500000,1000000,1500000,2000000],"labelExpr":"'' + (datum.value/1000000)","title":null}},
"color":{"field":"s","type":"nominal","scale":{"domain":["Obs","Mod"],"range":["#3333ff","#ff3333"]},"legend":null}}},
{"data":{"values":[{"etiqueta":"x 10⁶"}]},"mark":{"type":"text","align":"left","baseline":"bottom","dx":2,"dy":-1,"fontSize":9,"color":"#666"},
"encoding":{"x":{"datum":0,"type":"quantitative","axis":{"values":[0,2,4,6,8],"title":null}},"y":{"datum":2000000,"type":"quantitative","axis":{"values":[0,500000,1000000,1500000,2000000],"labelExpr":"'' + (datum.value/1000000)","title":null}},"text":{"field":"etiqueta"}}}
]},
{"width":256,"height":131,"title":{"text":"Años","offset":1,"dx":14},
"layer":[
{"data":{"name":"gpr_e3ah"},"mark":{"type":"line","strokeWidth":1.2},
"encoding":{"x":{"field":"t","type":"quantitative","scale":{"domain":[0,8],"nice":false},"axis":{"values":[0,2,4,6,8],"title":null}},
"y":{"field":"v","type":"quantitative","scale":{"domain":[0,800000],"nice":false},"axis":{"values":[0,200000,400000,600000,800000],"labelExpr":"'' + (datum.value/100000)","title":null}},
"color":{"field":"s","type":"nominal","scale":{"domain":["Obs","Mod"],"range":["#3333ff","#ff3333"]},"legend":null}}},
{"data":{"values":[{"etiqueta":"x 10⁵"}]},"mark":{"type":"text","align":"left","baseline":"bottom","dx":2,"dy":-1,"fontSize":9,"color":"#666"},
"encoding":{"x":{"datum":0,"type":"quantitative","axis":{"values":[0,2,4,6,8],"title":null}},"y":{"datum":800000,"type":"quantitative","axis":{"values":[0,200000,400000,600000,800000],"labelExpr":"'' + (datum.value/100000)","title":null}},"text":{"field":"etiqueta"}}}
]},
{"width":256,"height":131,"title":{"text":"Años","offset":4,"dx":4},"data":{"name":"bhp_e3h"},"mark":{"type":"line","strokeWidth":1.2},
"encoding":{"x":{"field":"t","type":"quantitative","scale":{"domain":[0,8],"nice":false},"axis":{"values":[0,2,4,6,8],"title":"Azul: Observado","titleColor":"#3b3bb8","titleFontSize":32,"titleX":243,"titleY":40,"titleAlign":"center","titleBaseline":"middle"}},
"y":{"field":"v","type":"quantitative","scale":{"domain":[0,300],"nice":false},"axis":{"values":[0,100,200,300],"title":["BHP","(bar)"]}},
"color":{"field":"s","type":"nominal","scale":{"domain":["Obs","Mod"],"range":["#3333ff","#ff3333"]},"legend":null}}},
{"width":256,"height":131,"title":{"text":"Años","offset":4,"dx":14},"data":{"name":"bhp_e2h"},"mark":{"type":"line","strokeWidth":1.2},
"encoding":{"x":{"field":"t","type":"quantitative","scale":{"domain":[0,8],"nice":false},"axis":{"values":[0,2,4,6,8],"title":"Rojo: Modelado","titleColor":"#e8282d","titleFontSize":32,"titleX":280,"titleY":40,"titleAlign":"center","titleBaseline":"middle"}},
"y":{"field":"v","type":"quantitative","scale":{"domain":[0,300],"nice":false},"axis":{"values":[0,100,200,300],"title":null}},
"color":{"field":"s","type":"nominal","scale":{"domain":["Obs","Mod"],"range":["#3333ff","#ff3333"]},"legend":null}}},
{"width":256,"height":131,"title":{"text":"Años","offset":4,"dx":14},"data":{"name":"bhp_e3ah"},"mark":{"type":"line","strokeWidth":1.2},
"encoding":{"x":{"field":"t","type":"quantitative","scale":{"domain":[0,8],"nice":false},"axis":{"values":[0,2,4,6,8],"title":null}},
"y":{"field":"v","type":"quantitative","scale":{"domain":[0,300],"nice":false},"axis":{"values":[0,100,200,300],"title":null}},
"color":{"field":"s","type":"nominal","scale":{"domain":["Obs","Mod"],"range":["#3333ff","#ff3333"]},"legend":null}}}
],
"config":{
"font":"Liberation Sans",
"numberFormat":"d",
"view":{"stroke":"#333","strokeWidth":1},
"axis":{"grid":false,"domain":false,"tickSize":-4,"tickColor":"#666","labelColor":"#666","labelFontSize":10,"labelPadding":6,"labelOverlap":false,"titleFontSize":22,"titleFontWeight":"bold","titleColor":"#111","titleLineHeight":30,"titlePadding":8},
"title":{"fontSize":26,"fontWeight":"bold","color":"#111","anchor":"middle","frame":"group","baseline":"alphabetic"}
}
}
